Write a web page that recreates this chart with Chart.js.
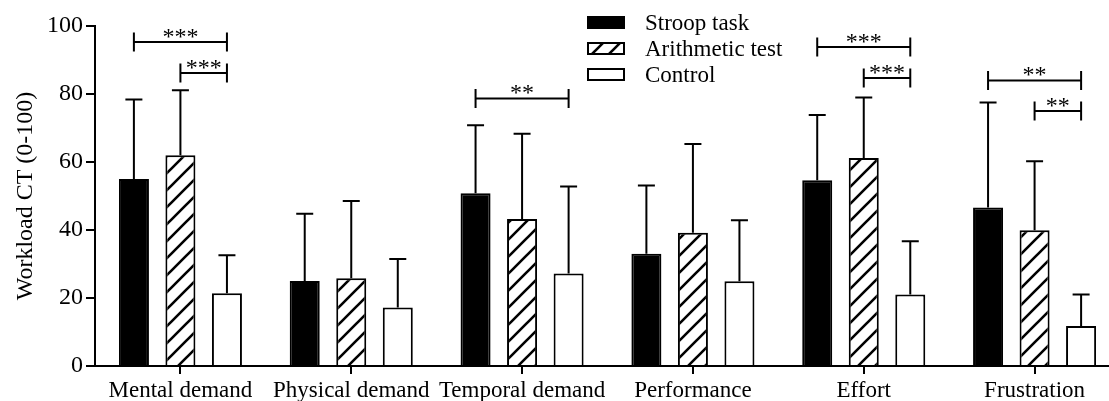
<!DOCTYPE html>
<html>
<head>
<meta charset="utf-8">
<script src="https://cdn.jsdelivr.net/npm/chart.js@4/dist/chart.umd.min.js"></script>
<style>
  html, body { margin: 0; padding: 0; background: #fff; overflow: hidden; }
  canvas { display: block; }
</style>
</head>
<body>
<canvas id="chart" width="1120" height="401"></canvas>
<script>
// values (mean and SD, workload 0-100)
const categories = ['Mental demand', 'Physical demand', 'Temporal demand', 'Performance', 'Effort', 'Frustration'];
const seriesNames = ['Stroop task', 'Arithmetic test', 'Control'];
const stroopMean = [55.0, 25.0, 50.8, 33.0, 54.6, 46.6];
const stroopSd   = [23.4, 19.8, 20.0, 20.1, 19.2, 30.9];
const arithMean  = [62.0, 25.8, 43.2, 39.2, 61.2, 39.9];
const arithSd    = [19.1, 22.7, 25.1, 26.1, 17.8, 20.3];
const controlMean = [21.4, 17.2, 27.2, 24.9, 21.0, 11.8];
const controlSd   = [11.2, 14.3, 25.6, 18.0, 15.7, 9.2];
const yTicks = [0, 20, 40, 60, 80, 100];

// significance brackets: category, from series, to series, level, label
const sigCat   = [0, 0, 2, 4, 4, 5, 5];
const sigFrom  = [0, 1, 0, 0, 1, 0, 1];
const sigTo    = [2, 2, 2, 2, 2, 2, 2];
const sigLevel = [95.3, 86.2, 78.7, 93.8, 84.7, 84.0, 75.0];
const sigText  = ['***', '***', '**', '***', '***', '**', '**'];

const FONT = '"Liberation Serif", "Times New Roman", serif';

function makeHatch() {
  const p = 17;
  const c = document.createElement('canvas');
  c.width = p; c.height = p;
  const g = c.getContext('2d');
  g.fillStyle = '#fff';
  g.fillRect(0, 0, p, p);
  g.strokeStyle = '#000';
  g.lineWidth = 2.6;
  g.beginPath();
  g.moveTo(0, p); g.lineTo(p, 0);
  g.moveTo(-3, 3); g.lineTo(3, -3);
  g.moveTo(p - 3, p + 3); g.lineTo(p + 3, p - 3);
  g.stroke();
  return g.createPattern(c, 'repeat');
}
const hatch = makeHatch();
const fills = ['#000', hatch, '#fff'];

const extras = {
  id: 'extras',
  afterDatasetsDraw(chart) {
    const ctx = chart.ctx;
    const y = chart.scales.y;
    ctx.save();
    ctx.strokeStyle = '#000';
    ctx.lineWidth = 2;

    // error bars (upper only)
    chart.data.datasets.forEach((ds, d) => {
      chart.getDatasetMeta(d).data.forEach((bar, i) => {
        const top = y.getPixelForValue(ds.data[i] + ds.sd[i]);
        ctx.beginPath();
        ctx.moveTo(bar.x, bar.y);
        ctx.lineTo(bar.x, top);
        ctx.moveTo(bar.x - 8.5, top);
        ctx.lineTo(bar.x + 8.5, top);
        ctx.stroke();
      });
    });

    // brackets with stars
    ctx.fillStyle = '#000';
    ctx.font = '24px ' + FONT;
    ctx.textAlign = 'center';
    ctx.textBaseline = 'alphabetic';
    sigCat.forEach((c, k) => {
      const x1 = chart.getDatasetMeta(sigFrom[k]).data[c].x;
      const x2 = chart.getDatasetMeta(sigTo[k]).data[c].x;
      const ly = y.getPixelForValue(sigLevel[k]);
      ctx.beginPath();
      ctx.moveTo(x1, ly); ctx.lineTo(x2, ly);
      ctx.moveTo(x1, ly - 9.5); ctx.lineTo(x1, ly + 9.5);
      ctx.moveTo(x2, ly - 9.5); ctx.lineTo(x2, ly + 9.5);
      ctx.stroke();
      ctx.fillText(sigText[k], (x1 + x2) / 2, ly + 2);
    });

    // legend
    ctx.font = '23px ' + FONT;
    ctx.textAlign = 'left';
    ctx.textBaseline = 'middle';
    chart.data.datasets.forEach((ds, d) => {
      const ry = 22.5 + d * 26;
      ctx.fillStyle = ds.backgroundColor;
      ctx.fillRect(588, ry - 5.5, 36, 11);
      ctx.lineWidth = 2;
      ctx.strokeRect(588, ry - 5.5, 36, 11);
      ctx.fillStyle = '#000';
      ctx.fillText(ds.label, 645, ry + 1);
    });
    ctx.restore();
  }
};

new Chart(document.getElementById('chart'), {
  type: 'bar',
  data: {
    labels: categories,
    datasets: [
      { label: seriesNames[0], data: stroopMean, sd: stroopSd },
      { label: seriesNames[1], data: arithMean, sd: arithSd },
      { label: seriesNames[2], data: controlMean, sd: controlSd }
    ].map((ds, i) => Object.assign(ds, {
      backgroundColor: fills[i],
      borderColor: '#000',
      borderWidth: 2,
      borderSkipped: 'bottom',
      categoryPercentage: 0.817,
      barPercentage: 0.645
    }))
  },
  options: {
    responsive: false,
    animation: false,
    layout: { padding: { top: 26, right: 0, left: 0, bottom: 0 } },
    plugins: { legend: { display: false }, tooltip: { enabled: false } },
    scales: {
      x: {
        afterFit: s => { s.height = 35; },
        grid: { display: true, drawOnChartArea: false, offset: false, tickLength: 8, color: '#000', lineWidth: 2 },
        border: { display: true, color: '#000', width: 2, z: 1 },
        ticks: { color: '#000', font: { family: FONT, size: 23 }, padding: 3, maxRotation: 0, autoSkip: false }
      },
      y: {
        min: 0,
        max: 100,
        afterFit: s => { s.width = 95; },
        afterBuildTicks: s => { s.ticks = yTicks.map(v => ({ value: v })); },
        grid: { display: true, drawOnChartArea: false, tickLength: 9, color: '#000', lineWidth: 2 },
        border: { display: true, color: '#000', width: 2 },
        ticks: { color: '#000', font: { family: FONT, size: 24 }, padding: 3 },
        title: {
          display: true,
          text: 'Workload CT (0-100)',
          color: '#000',
          font: { family: FONT, size: 24 },
          padding: { top: 11, bottom: 0 }
        }
      }
    }
  },
  plugins: [extras]
});
</script>
</body>
</html>
